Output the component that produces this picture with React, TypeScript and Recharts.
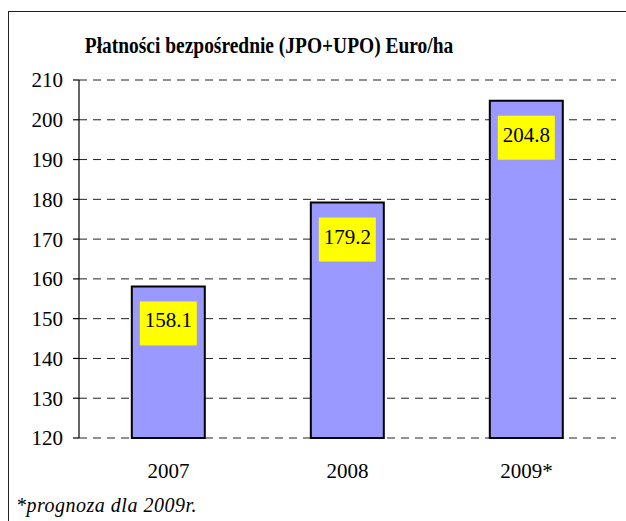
import { Bar, BarChart, CartesianGrid, LabelList, XAxis, YAxis } from "recharts";

const years = ["2007", "2008", "2009*"];
const payments = [158.1, 179.2, 204.8];
const yTicks = [120, 130, 140, 150, 160, 170, 180, 190, 200, 210];
const boundaryTicks = [0, 1, 2, 3];

const data = years.map((year, i) => ({ year, value: payments[i] }));

const serif = "Liberation Serif";

/** Yellow value box drawn just under the top of each bar. */
function ValueBox(props: any) {
  const { x, y, width, value } = props;
  const cx = x + width / 2;
  return (
    <g>
      <rect x={cx - 28.5} y={y + 15} width={57} height={44} fill="#ffff00" />
      <text x={cx} y={y + 41} textAnchor="middle" fontFamily={serif} fontSize={21} fill="#000">
        {Number(value).toFixed(1)}
      </text>
    </g>
  );
}

export default function App() {
  return (
    <div style={{ position: "relative", width: 626, height: 521, background: "#fff", fontFamily: serif }}>
      <style>{`body{margin:0;overflow:hidden;background:#fff}`}</style>
      <div
        style={{
          position: "absolute",
          left: 8,
          top: 11,
          width: 640,
          height: 540,
          border: "1.5px solid #222",
          boxSizing: "border-box",
        }}
      />
      <div
        style={{
          position: "absolute",
          left: 0,
          top: 33,
          width: 538,
          textAlign: "center",
          fontFamily: serif,
          fontWeight: "bold",
          fontSize: 24,
          lineHeight: "24px",
          color: "#000",
          whiteSpace: "nowrap",
          transform: "scaleX(0.81)",
          transformOrigin: "269px 0",
        }}
      >
        Płatności bezpośrednie (JPO+UPO) Euro/ha
      </div>
      <div style={{ position: "absolute", left: 0, top: 0 }}>
        <BarChart
          width={626}
          height={521}
          data={data}
          barCategoryGap="29.5%"
          margin={{ top: 80, right: 10, bottom: 43, left: 19 }}
        >
          <CartesianGrid
            xAxisId="cat"
            yAxisId="left"
            vertical={false}
            stroke="#222"
            strokeDasharray="8 6"
          />
          <XAxis
            xAxisId="edge"
            type="number"
            domain={[0, 3]}
            ticks={boundaryTicks}
            height={0}
            tickSize={6}
            tickFormatter={() => ""}
            axisLine={{ stroke: "#000", strokeWidth: 1.2 }}
            tickLine={{ stroke: "#000", strokeWidth: 1.2 }}
          />
          <XAxis
            xAxisId="cat"
            dataKey="year"
            height={40}
            axisLine={false}
            tickLine={false}
            tickSize={6}
            tickMargin={19}
            tick={{ fill: "#000", fontSize: 21, fontFamily: serif }}
          />
          <YAxis
            yAxisId="left"
            domain={[120, 210]}
            ticks={yTicks}
            width={60}
            tickSize={6}
            tickMargin={10}
            interval={0}
            axisLine={{ stroke: "#000", strokeWidth: 1.2 }}
            tickLine={{ stroke: "#000", strokeWidth: 1.2 }}
            tick={{ fill: "#000", fontSize: 21, fontFamily: serif }}
          />
          <YAxis
            yAxisId="right"
            orientation="right"
            domain={[120, 210]}
            width={0}
            tick={false}
            tickLine={false}
            axisLine={{ stroke: "#999" }}
          />
          <Bar
            xAxisId="cat"
            yAxisId="left"
            dataKey="value"
            fill="#9999ff"
            stroke="#000"
            strokeWidth={2}
            isAnimationActive={false}
          >
            <LabelList dataKey="value" content={ValueBox} />
          </Bar>
        </BarChart>
      </div>
      <div
        style={{
          position: "absolute",
          left: 16,
          top: 495,
          fontFamily: serif,
          fontStyle: "italic",
          fontSize: 20,
          lineHeight: "20px",
          letterSpacing: "0.5px",
          color: "#000",
          whiteSpace: "nowrap",
        }}
      >
        *prognoza dla 2009r.
      </div>
    </div>
  );
}
